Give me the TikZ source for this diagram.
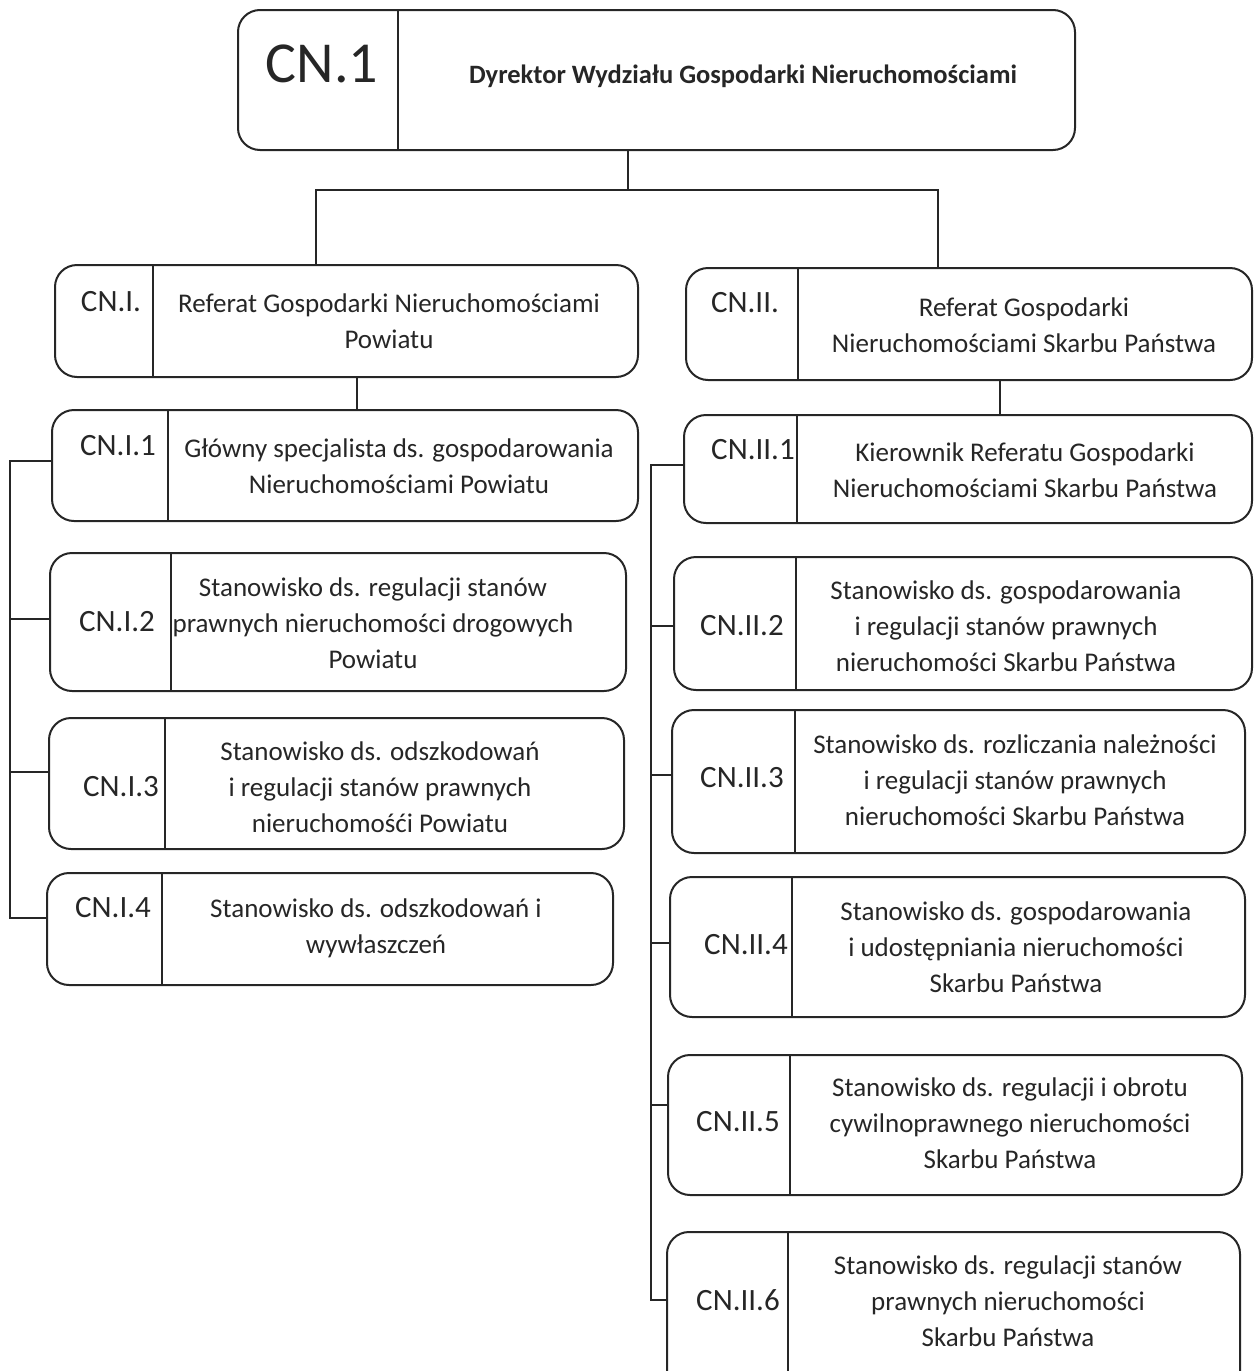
\documentclass[tikz,border=0pt]{standalone}
\usepackage{fontspec}
\setmainfont{Carlito}
\usetikzlibrary{calc}
\newcommand{\orgbox}[6]{%
  \node[obox, minimum width={#4-#2}, minimum height={#5-#3}, anchor=north west] (#1) at (#2,#3) {};
  \draw[divline] (#6,#3) -- (#6,#5);}
\begin{document}
\begin{tikzpicture}[x=1pt,y=-1pt,
  obox/.style={draw=black!85, line width=2pt, rounded corners=22pt, inner sep=0pt, outer sep=0pt, fill=none},
  divline/.style={draw=black!85, line width=1.6pt},
  conn/.style={draw=black!85, line width=1.8pt},
  lbl/.style={font=\fontsize{31}{36}\selectfont, inner sep=0pt, text=black!85},
  txt/.style={font=\fontsize{27}{36}\selectfont, align=center, inner sep=0pt, text=black!85}]
\useasboundingbox (0,0) rectangle (1255,1371);
\clip (0,0) rectangle (1255,1371);

% top box
\orgbox{top}{238}{10}{1075}{150}{398}
\node[inner sep=0pt, font=\fontsize{58}{64}\selectfont, text=black!85] (topl) at (322,64) {CN.1};
\node[inner sep=0pt, font=\fontsize{26.5}{30}\selectfont\bfseries, text=black!85] (topt) at (743,76) {Dyrektor Wydziału Gospodarki Nieruchomościami};

% level 2
\orgbox{r1}{55}{265}{638}{377}{153}
\node[lbl] (r1l) at (111,302) {CN.I.};
\node[txt] (r1t) at (389,321) {Referat Gospodarki Nieruchomościami\\Powiatu};

\orgbox{r2}{686}{268}{1252}{380}{798}
\node[lbl] (r2l) at (745,303) {CN.II.};
\node[txt] (r2t) at (1024,325) {Referat Gospodarki\\Nieruchomościami Skarbu Państwa};

% left column
\orgbox{a1}{52}{410}{638}{521}{168}
\node[lbl] (a1l) at (118,446) {CN.I.1};
\node[txt] (a1t) at (399,466) {Główny specjalista ds. gospodarowania\\Nieruchomościami Powiatu};

\orgbox{a2}{50}{553}{626}{691}{171}
\node[lbl] (a2l) at (117,622) {CN.I.2};
\node[txt] (a2t) at (373,623) {Stanowisko ds. regulacji stanów\\prawnych nieruchomości drogowych\\Powiatu};

\orgbox{a3}{49}{718}{624}{849}{165}
\node[lbl] (a3l) at (121,787) {CN.I.3};
\node[txt] (a3t) at (380,787) {Stanowisko ds. odszkodowań\\i regulacji stanów prawnych\\nieruchomośći Powiatu};

\orgbox{a4}{47}{873}{613}{985}{162}
\node[lbl] (a4l) at (113,908) {CN.I.4};
\node[txt] (a4t) at (376,928) {Stanowisko ds. odszkodowań i\\wywłaszczeń};

% right column
\orgbox{b1}{684}{415}{1252}{523}{797}
\node[lbl] (b1l) at (753,450) {CN.II.1};
\node[txt] (b1t) at (1025,470) {Kierownik Referatu Gospodarki\\Nieruchomościami Skarbu Państwa};

\orgbox{b2}{674}{557}{1252}{690}{796}
\node[lbl] (b2l) at (742,626) {CN.II.2};
\node[txt] (b2t) at (1006,626) {Stanowisko ds. gospodarowania\\i regulacji stanów prawnych\\nieruchomości Skarbu Państwa};

\orgbox{b3}{672}{710}{1245}{853}{795}
\node[lbl] (b3l) at (742,778) {CN.II.3};
\node[txt] (b3t) at (1015,780) {Stanowisko ds. rozliczania należności\\i regulacji stanów prawnych\\nieruchomości Skarbu Państwa};

\orgbox{b4}{670}{877}{1245}{1017}{792}
\node[lbl] (b4l) at (746,945) {CN.II.4};
\node[txt] (b4t) at (1016,947) {Stanowisko ds. gospodarowania\\i udostępniania nieruchomości\\Skarbu Państwa};

\orgbox{b5}{668}{1055}{1242}{1195}{790}
\node[lbl] (b5l) at (738,1122) {CN.II.5};
\node[txt] (b5t) at (1010,1123) {Stanowisko ds. regulacji i obrotu\\cywilnoprawnego nieruchomości\\Skarbu Państwa};

\orgbox{b6}{667}{1232}{1240}{1395}{788}
\node[lbl] (b6l) at (738,1300) {CN.II.6};
\node[txt] (b6t) at (1008,1301) {Stanowisko ds. regulacji stanów\\prawnych nieruchomości\\Skarbu Państwa};

% connectors
\coordinate (jT) at (628,190);
\coordinate (jL) at (316,190);
\coordinate (jR) at (938,190);
\draw[conn] (top.south -| jT) -- (jT);
\draw[conn] (r1.north -| jL) -- (jL) -- (jR) -- (r2.north -| jR);

\coordinate (jA) at (357,390);
\draw[conn] (r1.south -| jA) -- (a1.north -| jA);
\coordinate (jB) at (1000,390);
\draw[conn] (r2.south -| jB) -- (b1.north -| jB);

\coordinate (L1) at (10,461);
\coordinate (L2) at (10,619);
\coordinate (L3) at (10,772);
\coordinate (L4) at (10,918);
\draw[conn] (a1.west |- L1) -- (L1) -- (L4) -- (a4.west |- L4);
\draw[conn] (L2) -- (a2.west |- L2);
\draw[conn] (L3) -- (a3.west |- L3);

\coordinate (R1) at (651,465);
\coordinate (R2) at (651,626);
\coordinate (R3) at (651,775);
\coordinate (R4) at (651,943);
\coordinate (R5) at (651,1105);
\coordinate (R6) at (651,1300);
\draw[conn] (b1.west |- R1) -- (R1) -- (R6) -- (b6.west |- R6);
\draw[conn] (R2) -- (b2.west |- R2);
\draw[conn] (R3) -- (b3.west |- R3);
\draw[conn] (R4) -- (b4.west |- R4);
\draw[conn] (R5) -- (b5.west |- R5);
\end{tikzpicture}
\end{document}
